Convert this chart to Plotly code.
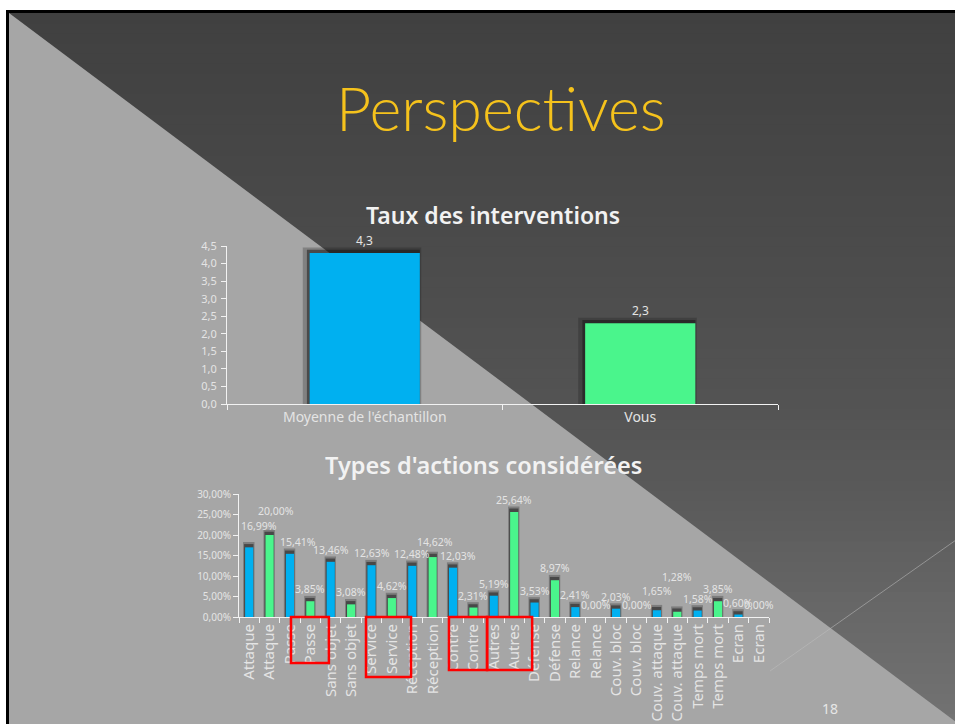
import plotly.graph_objects as go

# ---------------- data ----------------
chart1_title = "Taux des interventions"
chart1_categories = ["Moyenne de l'échantillon", "Vous"]
chart1_values = [4.3, 2.3]
chart1_labels = ["4,3", "2,3"]
chart1_yticks = [0, 0.5, 1.0, 1.5, 2.0, 2.5, 3.0, 3.5, 4.0, 4.5]
chart1_yticktext = ["0,0", "0,5", "1,0", "1,5", "2,0", "2,5", "3,0", "3,5", "4,0", "4,5"]

chart2_title = "Types d'actions considérées"
action_names = ["Attaque", "Passe", "Sans objet", "Service", "Réception", "Contre",
                "Autres", "Défense", "Relance", "Couv. bloc", "Couv. attaque",
                "Temps mort", "Ecran"]
sample_pct = [16.99, 15.41, 13.46, 12.63, 12.48, 12.03, 5.19, 3.53, 2.41, 2.03, 1.65, 1.58, 0.60]
you_pct = [20.00, 3.85, 3.08, 4.62, 14.62, 2.31, 25.64, 8.97, 0.00, 0.00, 1.28, 3.85, 0.00]
chart2_yticks = [0, 5, 10, 15, 20, 25, 30]
chart2_yticktext = ["0,00%", "5,00%", "10,00%", "15,00%", "20,00%", "25,00%", "30,00%"]

slide_title = "Perspectives"
page_number = "18"

# ---------------- styling ----------------
W, H = 955, 724
BLUE = "#00b0f0"
GREEN = "#4af58c"
TXT = "#e4e4e4"
FONT = "Noto Sans"
TITLE_FONT = "Lato"
# red highlight boxes: (left, right) in category-index units, bottom in px
highlight_boxes = [(2.05, 3.91, 663), (5.73, 7.94, 677), (9.8, 11.67, 670), (11.67, 13.88, 670)]
# per-label nudges (dx px, extra lift px) mimicking the original label placement
label_nudge = {0: (10, 9), 1: (6, 12), 2: (8, 0), 9: (2, 3), 10: (5, 0), 20: (0, 7), 21: (0, 23)}


def X(x):
    return x / W


def Y(y):
    return 1 - y / H


# interleave the lower chart: blue (sample) then green (you) for each action
c2_x, c2_ticktext, c2_y, c2_col, c2_text = [], [], [], [], []
for i, name in enumerate(action_names):
    for v, col in ((sample_pct[i], BLUE), (you_pct[i], GREEN)):
        c2_x.append(len(c2_x))
        c2_ticktext.append(name)
        c2_y.append(v)
        c2_col.append(col)
        c2_text.append(f"{v:.2f}".replace(".", ",") + "%")

fig = go.Figure()

# soft shadows behind bars (two layers for a blurred look)
for pad, wd, off, alpha in ((0.16, 0.43, -0.225, 0.25), (0.09, 0.41, -0.21, 0.5)):
    fig.add_trace(go.Bar(
        x=chart1_categories, y=[v + pad for v in chart1_values],
        marker=dict(color=f"rgba(20,20,20,{alpha})", line=dict(width=0)),
        width=wd, offset=off, xaxis="x", yaxis="y", hoverinfo="skip", showlegend=False))
fig.add_trace(go.Bar(
    x=chart1_categories, y=chart1_values,
    marker=dict(color=[BLUE, GREEN], line=dict(width=0)),
    width=0.4, xaxis="x", yaxis="y", showlegend=False))

for pad, wd, off, alpha in ((1.3, 0.56, -0.3, 0.3), (0.8, 0.46, -0.25, 0.55)):
    fig.add_trace(go.Bar(
        x=c2_x, y=[v + pad if v > 0 else 0 for v in c2_y],
        marker=dict(color=f"rgba(30,30,30,{alpha})", line=dict(width=0)),
        width=wd, offset=off, xaxis="x2", yaxis="y2", hoverinfo="skip", showlegend=False))
fig.add_trace(go.Bar(
    x=c2_x, y=c2_y,
    marker=dict(color=c2_col, line=dict(width=0)),
    width=0.4, xaxis="x2", yaxis="y2", showlegend=False))

axis_common = dict(showgrid=False, zeroline=False, linecolor="#f2f2f2", linewidth=1,
                   tickcolor="#f2f2f2", ticklen=5, tickwidth=1, showline=True,
                   automargin=False)

fig.update_layout(
    width=W, height=H,
    margin=dict(l=0, r=0, t=0, b=0, pad=0, autoexpand=False),
    paper_bgcolor="white", plot_bgcolor="rgba(0,0,0,0)",
    barmode="overlay",
    showlegend=False,
    xaxis=dict(domain=[X(227), X(778)], anchor="y", type="category", ticks="outside",
               tickson="boundaries", tickfont=dict(family=FONT, size=14, color=TXT),
               **axis_common),
    yaxis=dict(domain=[Y(404), Y(246)], anchor="x", range=[0, 4.5], ticks="outside",
               tickvals=chart1_yticks, ticktext=chart1_yticktext, ticklabelstandoff=2,
               tickfont=dict(family=FONT, size=11, color=TXT), **axis_common),
    xaxis2=dict(domain=[X(239), X(769)], anchor="y2", range=[-0.5, len(c2_x) - 0.5],
                tickvals=c2_x, ticktext=c2_ticktext, tickangle=-90, ticks="",
                minor=dict(tick0=-0.5, dtick=1, ticks="outside", ticklen=5,
                           tickcolor="#f2f2f2", tickwidth=1, showgrid=False),
                tickfont=dict(family=FONT, size=15, color=TXT),
                **axis_common),
    yaxis2=dict(domain=[Y(617), Y(494)], anchor="x2", range=[0, 30], ticks="outside",
                tickvals=chart2_yticks, ticktext=chart2_yticktext,
                tickfont=dict(family=FONT, size=10, color=TXT), **axis_common),
)

# ---------------- slide background ----------------
shapes = []
shapes.append(dict(type="rect", xref="paper", yref="paper", x0=X(6), x1=1.01, y0=-0.01, y1=Y(10),
                   fillcolor="black", line=dict(width=0), layer="below"))
stops = [(13, 0x40), (150, 0x46), (400, 0x53), (500, 0x5a), (600, 0x66), (724, 0x73)]


def grey_at(y):
    for (ya, ca), (yb, cb) in zip(stops[:-1], stops[1:]):
        if ya <= y <= yb:
            return ca + (cb - ca) * (y - ya) / (yb - ya)
    return stops[-1][1]


nb = 70
y0 = 13
for k in range(nb):
    ya = y0 + (H - y0) * k / nb
    yb = y0 + (H - y0) * (k + 1) / nb + 0.8
    g = int(round(grey_at((ya + yb) / 2)))
    shapes.append(dict(type="rect", xref="paper", yref="paper", x0=X(9), x1=1.01,
                       y0=Y(min(yb, H + 2)), y1=Y(ya), fillcolor=f"rgb({g},{g},{g})",
                       line=dict(width=0), layer="below"))
shapes.append(dict(type="path", xref="paper", yref="paper",
                   path=f"M {X(9)},{Y(13)} L {X(956)},{Y(722)} L {X(956)},{Y(726)} L {X(9)},{Y(726)} Z",
                   fillcolor="#a6a6a6", line=dict(width=0), layer="below"))
shapes.append(dict(type="line", xref="paper", yref="paper", x0=X(770), y0=Y(671), x1=X(956), y1=Y(540),
                   line=dict(color="rgba(190,190,190,0.55)", width=1), layer="below"))

for a, b, bottom in highlight_boxes:
    shapes.append(dict(type="rect", xref="x2", yref="paper",
                       x0=a, x1=b, y0=Y(bottom), y1=Y(617),
                       line=dict(color="#ff0000", width=2.5), fillcolor="rgba(0,0,0,0)", layer="above"))
fig.update_layout(shapes=shapes)

annotations = [
    dict(text=slide_title, xref="paper", yref="paper", x=X(501), y=Y(108), showarrow=False,
         font=dict(family=TITLE_FONT, size=61, color="#f5c21c", weight=300),
         xanchor="center", yanchor="middle"),
    dict(text=chart1_title, xref="paper", yref="paper", x=X(493), y=Y(215), showarrow=False,
         font=dict(family=FONT, size=23, color="#f2f2f2", weight=600),
         xanchor="center", yanchor="middle"),
    dict(text=chart2_title, xref="paper", yref="paper", x=X(484), y=Y(465), showarrow=False,
         font=dict(family=FONT, size=23.5, color="#f2f2f2", weight=600),
         xanchor="center", yanchor="middle"),
    dict(text=page_number, xref="paper", yref="paper", x=X(830), y=Y(708), showarrow=False,
         font=dict(family=FONT, size=14, color="#e6e6e6"), xanchor="center", yanchor="middle"),
]
for cat, v, lab in zip(chart1_categories, chart1_values, chart1_labels):
    annotations.append(dict(text=lab, x=cat, y=v, xref="x", yref="y", showarrow=False,
                            yshift=13, xanchor="center", yanchor="middle",
                            font=dict(family=FONT, size=12, color=TXT)))
for i, (xi, v, lab) in enumerate(zip(c2_x, c2_y, c2_text)):
    dx, dy = label_nudge.get(i, (0, 0))
    annotations.append(dict(text=lab, x=xi, y=v, xref="x2", yref="y2", showarrow=False,
                            yshift=12 + dy, xshift=dx, xanchor="center", yanchor="middle",
                            font=dict(family=FONT, size=10.5, color=TXT)))
fig.update_layout(annotations=annotations)

fig.write_html("out.html", config={"displayModeBar": False}, post_script=(
    "document.body.style.margin='0';document.body.style.padding='0';"
    "document.documentElement.style.overflow='hidden';document.body.style.overflow='hidden';"))
